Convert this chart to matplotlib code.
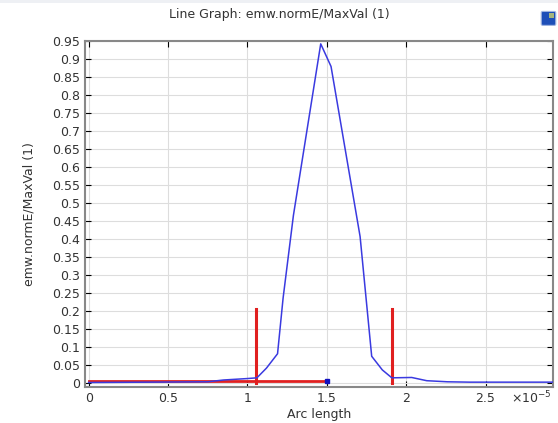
import numpy as np
import matplotlib
matplotlib.use("Agg")
import matplotlib.pyplot as plt
from matplotlib.patches import FancyBboxPatch, Rectangle
from matplotlib.ticker import FuncFormatter, MultipleLocator

# arc length (units of 1e-5) and normalized field
arc = [0.0, 0.75, 0.85, 1.0, 1.06, 1.12, 1.19, 1.225, 1.29, 1.462, 1.527,
       1.71, 1.783, 1.85, 1.91, 2.035, 2.13, 2.26, 2.4, 2.92]
norm_e = [0.0, 0.002, 0.007, 0.011, 0.013, 0.04, 0.08, 0.235, 0.465, 0.942, 0.879,
          0.406, 0.073, 0.035, 0.013, 0.014, 0.005, 0.002, 0.001, 0.001]

# red marker lines
red_h_x = [0.0, 1.5]
red_h_y = [0.003, 0.003]
red_v_x = [1.057, 1.909]
red_v_top = 0.205

fig = plt.figure(figsize=(5.58, 4.23), dpi=100)
ax = fig.add_axes([0.1523, 0.0851, 0.8387, 0.8180])

ax.grid(True, color="#dddddd", linewidth=0.8)
ax.set_axisbelow(True)

ax.plot(red_h_x, red_h_y, color="#e02020", lw=2, zorder=3)
for xv in red_v_x:
    ax.plot([xv, xv], [0, red_v_top], color="#e02020", lw=2.2, zorder=3)
ax.plot(arc, norm_e, color="#3a3ae0", lw=1.1, zorder=4)
ax.plot([1.5], [0.003], marker="s", ms=3.5, color="#1010c0", zorder=5)

ax.set_xlim(-0.023, 2.925)
ax.set_ylim(-0.0125, 0.95)
ax.xaxis.set_major_locator(MultipleLocator(0.5))
ax.yaxis.set_major_locator(MultipleLocator(0.05))
ax.xaxis.set_major_formatter(FuncFormatter(lambda v, p: "%g" % round(v, 3)))
ax.yaxis.set_major_formatter(FuncFormatter(lambda v, p: "%g" % round(v, 3)))
ax.tick_params(direction="in", top=True, right=True, length=4, labelsize=9,
               colors="black", labelcolor="#333333")

for s in ax.spines.values():
    s.set_color("#888888")
    s.set_linewidth(1.5)

ax.set_xlabel("Arc length", fontsize=9, color="#333333", labelpad=2)
ax.set_ylabel("emw.normE/MaxVal (1)", fontsize=9, color="#333333", labelpad=12)
fig.text(0.5, 0.965, "Line Graph: emw.normE/MaxVal (1)", ha="center", va="center",
         fontsize=9, color="#333333")
fig.text(0.989, 0.059, r"×10$^{\mathregular{-5}}$", ha="right", va="center",
         fontsize=9, color="#333333")

# faint toolbar strip and small colour icon at top right
fig.patches.append(Rectangle((0, 0.993), 1, 0.007, transform=fig.transFigure,
                             color="#eef0f4", lw=0))
icon = FancyBboxPatch((0.973, 0.943), 0.020, 0.027, transform=fig.transFigure,
                      boxstyle="round,pad=0.003", fc="#1e4fb8", ec="#9fb4e0", lw=0.8)
fig.patches.append(icon)
fig.patches.append(Rectangle((0.984, 0.958), 0.009, 0.012, transform=fig.transFigure,
                             fc="#c8d070", lw=0, alpha=0.8))

fig.savefig("out.png", dpi=100)
